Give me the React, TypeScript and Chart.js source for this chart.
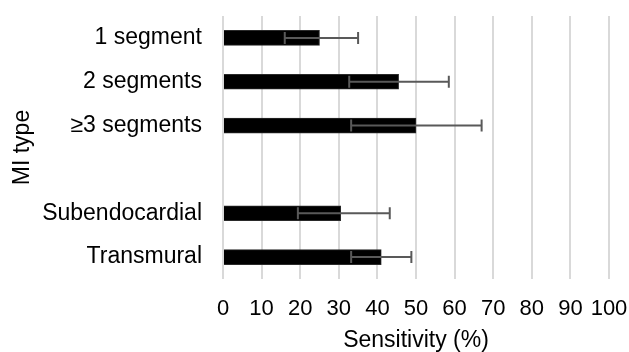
import React, { useEffect, useRef } from "react";
import { Chart, registerables } from "chart.js";

Chart.register(...registerables);

const categories = ["1 segment", "2 segments", "≥3 segments", "", "Subendocardial", "Transmural"];
const sensitivity = [25, 45.5, 50, null, 30.5, 41];
const errLow = [16, 32.7, 33.2, null, 19.4, 33.2];
const errHigh = [35, 58.5, 67, null, 43.2, 48.8];
const xTicks = [0, 10, 20, 30, 40, 50, 60, 70, 80, 90, 100];

const FONT = "'Liberation Sans', Arial, sans-serif";

const errorBarPlugin = {
  id: "errorBars",
  afterDatasetsDraw(chart: any) {
    const { ctx, scales } = chart;
    const xs = scales.x;
    const ys = scales.y;
    ctx.save();
    ctx.strokeStyle = "#595959";
    ctx.lineWidth = 2;
    for (let i = 0; i < categories.length; i++) {
      const lo = errLow[i];
      const hi = errHigh[i];
      if (lo == null || hi == null) continue;
      const y = ys.getPixelForValue(i);
      const x1 = xs.getPixelForValue(lo);
      const x2 = xs.getPixelForValue(hi);
      ctx.beginPath();
      ctx.moveTo(x1, y);
      ctx.lineTo(x2, y);
      ctx.moveTo(x1, y - 6);
      ctx.lineTo(x1, y + 6);
      ctx.moveTo(x2, y - 6);
      ctx.lineTo(x2, y + 6);
      ctx.stroke();
    }
    ctx.restore();
  },
};

export default function App() {
  const ref = useRef<HTMLCanvasElement | null>(null);
  useEffect(() => {
    if (!ref.current) return;
    const chart = new Chart(ref.current, {
      type: "bar",
      data: {
        labels: categories,
        datasets: [
          {
            data: sensitivity as any,
            backgroundColor: "#000000",
            borderColor: "#2a2a2a",
            borderWidth: 1,
            barThickness: 15,
          },
        ],
      },
      options: {
        indexAxis: "y",
        animation: false,
        responsive: false,
        maintainAspectRatio: false,
        layout: { padding: 0 },
        plugins: { legend: { display: false }, tooltip: { enabled: false } },
        scales: {
          x: {
            min: 0,
            max: 100,
            afterBuildTicks: (scale: any) => {
              scale.ticks = xTicks.map((v) => ({ value: v }));
            },
            afterFit: (scale: any) => {
              scale.height = 73;
              scale.paddingLeft = 0;
              scale.paddingRight = 20;
            },
            grid: { color: "#d9d9d9", lineWidth: 2, drawTicks: false },
            border: { display: false },
            ticks: {
              color: "#000",
              padding: 17,
              maxRotation: 0,
              autoSkip: false,
              font: { family: FONT, size: 22 },
            },
            title: {
              display: true,
              text: "Sensitivity (%)",
              color: "#000",
              font: { family: FONT, size: 23, lineHeight: 1 },
              padding: { top: 0, bottom: 0 },
            },
          },
          y: {
            afterFit: (scale: any) => {
              scale.width = 223;
              scale.paddingTop = 16;
              scale.paddingBottom = 0;
            },
            grid: { display: false, drawTicks: false },
            border: { display: false },
            ticks: {
              color: "#000",
              padding: 21,
              autoSkip: false,
              font: { family: FONT, size: 23 },
            },
            title: {
              display: true,
              text: "MI type",
              color: "#000",
              font: { family: FONT, size: 23, lineHeight: 1 },
              padding: { top: 11, bottom: 0 },
            },
          },
        },
      },
      plugins: [errorBarPlugin],
    });
    return () => chart.destroy();
  }, []);
  return (
    <div style={{ position: "fixed", left: 0, top: 0, width: 629, height: 352, background: "#fff" }}>
      <canvas ref={ref} width={629} height={352} style={{ width: 629, height: 352 }} />
    </div>
  );
}
